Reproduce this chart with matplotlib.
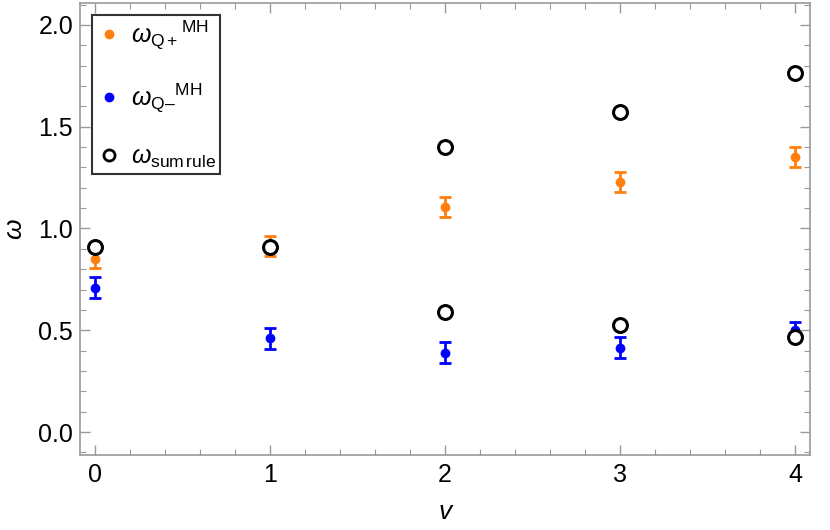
import matplotlib
matplotlib.use("Agg")
import matplotlib.pyplot as plt
from matplotlib.lines import Line2D
from matplotlib.ticker import MultipleLocator

plt.rcParams['font.family'] = ['Liberation Sans', 'DejaVu Sans']
plt.rcParams['mathtext.fontset'] = 'custom'
plt.rcParams['mathtext.rm'] = 'Liberation Sans'
plt.rcParams['mathtext.it'] = 'Liberation Sans:italic'

# data
nu = [0, 1, 2, 3, 4]
w_qplus = [0.85, 0.915, 1.105, 1.23, 1.35]
w_qplus_err = [0.045, 0.05, 0.05, 0.05, 0.05]
w_qminus = [0.71, 0.46, 0.39, 0.415, 0.50]
w_qminus_err = [0.05, 0.05, 0.05, 0.05, 0.04]
sum_nu = [0, 1, 2, 2, 3, 3, 4, 4]
w_sum = [0.91, 0.91, 1.40, 0.59, 1.57, 0.525, 1.765, 0.465]

orange = '#ff7f0e'
blue = '#0000ff'
frame = '#999999'

fig = plt.figure(figsize=(8.3, 5.3), dpi=100)
ax = fig.add_axes([80 / 830, 75 / 530, 730 / 830, 452 / 530])

ax.errorbar(nu, w_qplus, yerr=w_qplus_err, fmt='o', color=orange, ms=6,
            elinewidth=2, capsize=4, capthick=2, zorder=3)
ax.errorbar(nu, w_qminus, yerr=w_qminus_err, fmt='o', color=blue, ms=6,
            elinewidth=2, capsize=4, capthick=2, zorder=3)
ax.plot(sum_nu, w_sum, 'o', mfc='white', mec='black', mew=2.2, ms=10, zorder=4)

ax.set_xlim(-0.086, 4.086)
ax.set_ylim(-0.113, 2.108)
ax.xaxis.set_major_locator(MultipleLocator(1))
ax.xaxis.set_minor_locator(MultipleLocator(0.2))
ax.yaxis.set_major_locator(MultipleLocator(0.5))
ax.yaxis.set_minor_locator(MultipleLocator(0.1))
ax.yaxis.set_major_formatter(plt.FormatStrFormatter('%.1f'))

for s in ax.spines.values():
    s.set_color(frame)
    s.set_linewidth(1.2)
ax.tick_params(which='both', direction='in', top=True, right=True, color=frame)
ax.tick_params(which='major', length=7, width=1, labelsize=18, labelcolor='black')
ax.tick_params(which='minor', length=4, width=0.8)
ax.tick_params(axis='x', pad=6)
ax.tick_params(axis='y', pad=5)

ax.set_xlabel('v', fontsize=19, style='italic', labelpad=9)
ax.set_ylabel(r'$\omega$', fontsize=19, labelpad=8)

handles = [
    Line2D([], [], ls='none', marker='o', ms=6, color=orange),
    Line2D([], [], ls='none', marker='o', ms=6, color=blue),
    Line2D([], [], ls='none', marker='o', ms=8, mfc='white', mec='black', mew=2),
]
labels = [r'$\omega_{\mathrm{Q+}}{}^{\mathrm{MH}}$',
          r'$\omega_{\mathrm{Q–}}{}^{\mathrm{MH}}$',
          r'$\omega_{\mathrm{sum\,rule}}$']
leg = ax.legend(handles, labels, loc='upper left', bbox_to_anchor=(0.017, 0.973),
                fontsize=18, frameon=True, fancybox=False, labelspacing=1.2,
                handletextpad=0.4, handlelength=1.0, borderpad=0.15, borderaxespad=0)
leg.get_frame().set_edgecolor('black')
leg.get_frame().set_linewidth(1.5)

fig.savefig('out.png', dpi=100)
